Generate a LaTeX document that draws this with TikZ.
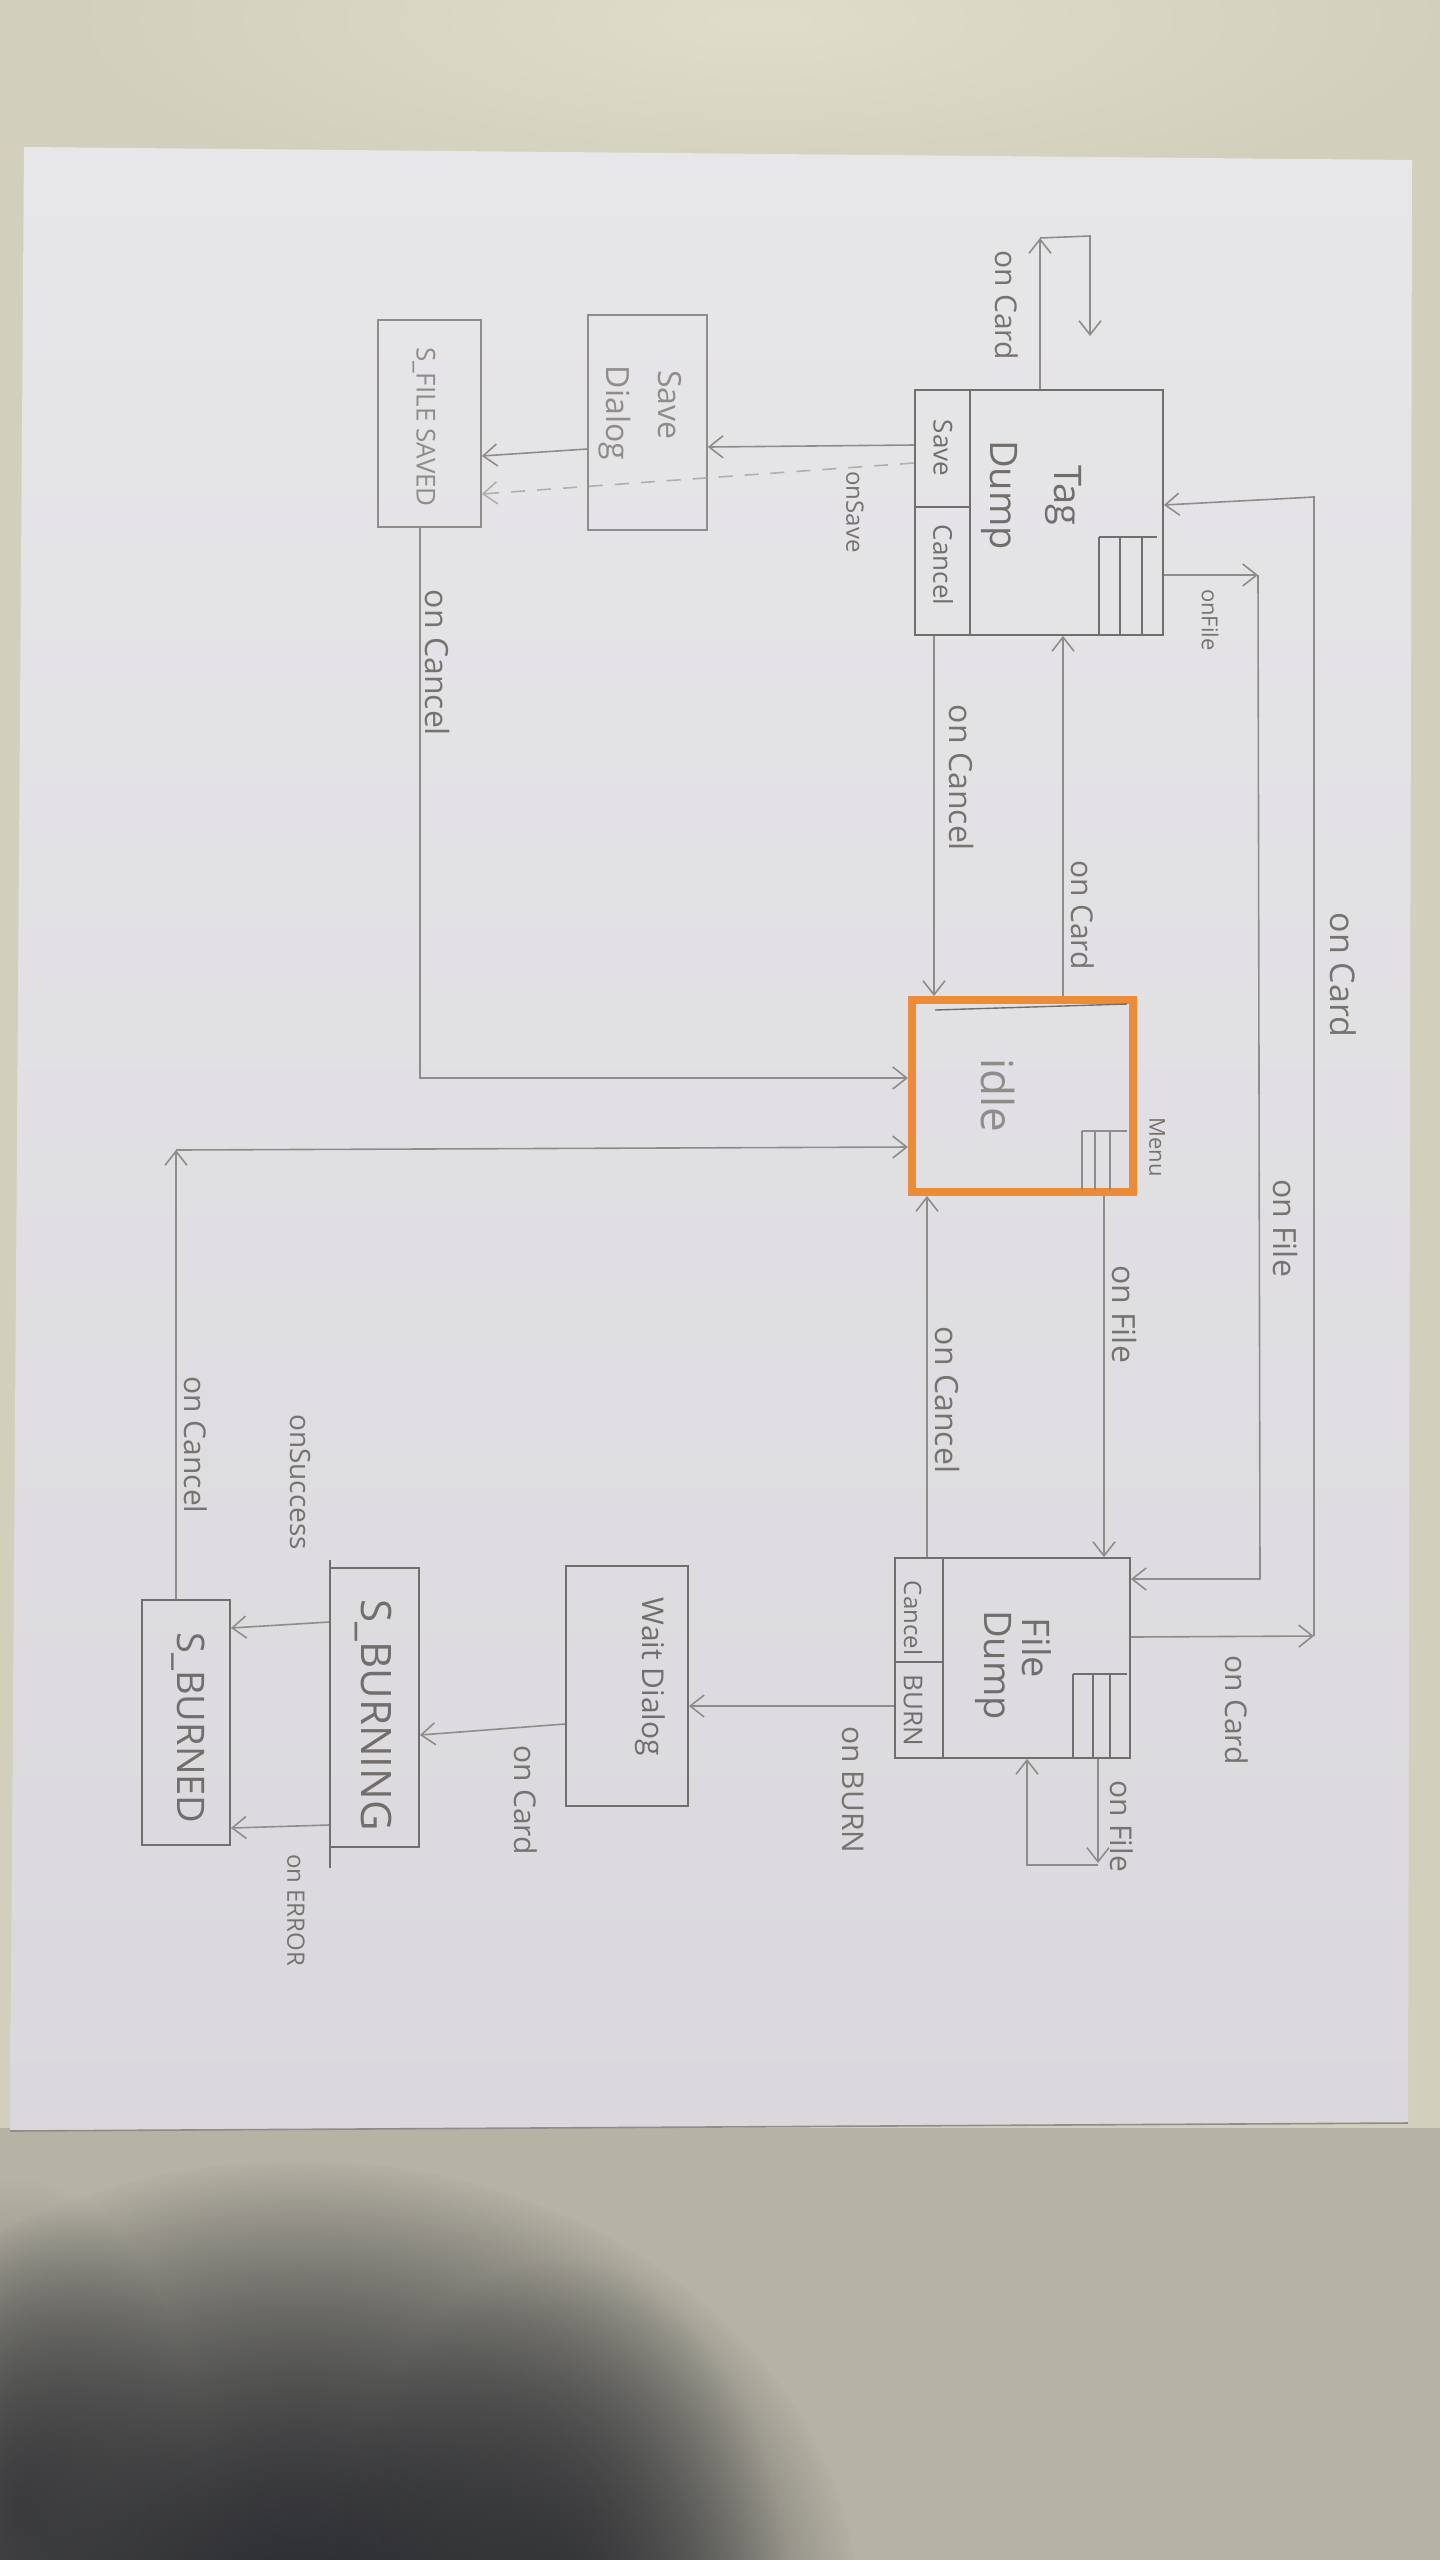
\documentclass[tikz,border=0pt]{standalone}
\usepackage{fontspec}
\setmainfont{Open Sans}
\usetikzlibrary{arrows.meta,fadings}
\definecolor{desk}{HTML}{D2D0BD}
\definecolor{deskhi}{HTML}{E0DECB}
\definecolor{tablec}{HTML}{B6B3A5}
\definecolor{shadowc}{HTML}{2E2F33}
\definecolor{papertop}{HTML}{E7E6E9}
\definecolor{paperbot}{HTML}{DAD8DC}
\definecolor{pencil}{HTML}{716E6C}
\definecolor{pencilsoft}{HTML}{8F8C8A}
\definecolor{inktext}{HTML}{77746F}
\definecolor{marker}{HTML}{EC8B38}
\tikzfading[name=softblob, inner color=transparent!0, outer color=transparent!100]
\begin{document}
\begin{tikzpicture}[x=0.5pt,y=-0.5pt,
  box/.style={draw=pencil, line width=0.9pt, inner sep=0pt},
  softbox/.style={draw=pencilsoft, line width=0.8pt, inner sep=0pt},
  stateidle/.style={draw=marker, line width=4pt, inner sep=0pt},
  wire/.style={draw=pencilsoft, line width=0.8pt},
  arr/.style={wire, -{Straight Barb[length=7pt,width=11pt]}},
  lbl/.style={text=inktext, rotate=-90, inner sep=0pt, font=\fontsize{#1}{#1}\selectfont},
  title/.style={text=pencil, rotate=-90, inner sep=0pt, font=\fontsize{#1}{#1}\selectfont},
]
\useasboundingbox (0,0) rectangle (1440,2560);

% ---------- desk, sheet of paper, table with shadow ----------
\fill[desk] (0,0) rectangle (1440,2560);
\fill[deskhi, path fading=softblob] (760,20) ellipse (720 and 200);
\fill[tablec] (0,2128) rectangle (1440,2560);
\begin{scope}
  \clip (0,2128) rectangle (1440,2560);
  \fill[shadowc, path fading=softblob] (300,2620) ellipse (560 and 460);
  \fill[shadowc, path fading=softblob] (300,2620) ellipse (560 and 460);
  \fill[shadowc, path fading=softblob, opacity=0.9] (560,2620) ellipse (230 and 360);
  \fill[shadowc, path fading=softblob, opacity=0.7] (20,2500) ellipse (180 and 320);
\end{scope}
\shade[top color=papertop, bottom color=paperbot]
  (24,147) -- (1412,160) -- (1408,2123) -- (10,2131) -- cycle;
\draw[color=pencilsoft, line width=0.8pt] (10,2131) -- (1408,2123);

% ---------- states ----------
\node[box, minimum width=124pt, minimum height=122.5pt] (tag) at (1039,512.5) {};
\node[softbox, minimum width=59.5pt, minimum height=107.5pt] (savedlg) at (647.5,422.5) {};
\node[softbox, minimum width=51.5pt, minimum height=103.5pt] (filesaved) at (429.5,423.5) {};
\node[stateidle, minimum width=110.5pt, minimum height=96pt] (idle) at (1022.5,1096) {};
\node[box, minimum width=117.5pt, minimum height=100pt] (filedump) at (1012.5,1658) {};
\node[box, minimum width=61pt, minimum height=120pt] (waitdlg) at (627,1686) {};
\node[box, minimum width=44.5pt, minimum height=139.5pt] (burning) at (374.5,1707.5) {};
\node[box, minimum width=44pt, minimum height=122.5pt] (burned) at (186,1722.5) {};

% Tag Dump: button strip and menu icon
\draw[box] (970,390) -- (970,635);
\draw[box] (915,507) -- (970,507);
\draw[box] (1099,537) -- (1157,537);
\foreach \x in {1099,1120,1142} \draw[box] (\x,537) -- (\x,635);
\node[title=13] at (943,448) {Save};
\node[title=13] at (943,565) {Cancel};
\node[title=19] at (1063,495) {Tag};
\node[title=19] at (999,495) {Dump};

% Save Dialog and S_FILE SAVED
\node[title=16, text=pencilsoft] at (670,405) {Save};
\node[title=16, text=pencilsoft] at (615,413) {Dialog};
\node[title=13, text=pencilsoft] at (424,427) {S\_FILE SAVED};

% idle: pencil line under the marker and menu icon
\draw[color=pencil, line width=0.7pt] (935,1010) -- (1127,1004);
\draw[softbox] (1082,1131) -- (1127,1131);
\foreach \x in {1082,1095,1110} \draw[softbox] (\x,1131) -- (\x,1190);
\node[title=22, text=pencilsoft] at (998,1095) {idle};
\node[lbl=11] at (1157,1147) {Menu};

% File Dump: button strip and menu icon
\draw[box] (943,1558) -- (943,1758);
\draw[box] (895,1662) -- (943,1662);
\draw[box] (1073,1674) -- (1127,1674);
\foreach \x in {1073,1093,1110} \draw[box] (\x,1674) -- (\x,1758);
\node[title=12] at (913,1618) {Cancel};
\node[title=13] at (913,1710) {BURN};
\node[title=19] at (1037,1648) {File};
\node[title=19] at (993,1665) {Dump};

% burning branch
\node[title=15] at (650,1677) {Wait Dialog};
\draw[box] (330,1560) -- (330,1868);
\node[title=21] at (373,1715) {S\_BURNING};
\node[title=19] at (188,1728) {S\_BURNED};

% ---------- transitions ----------
% Tag Dump
\coordinate (tagloopA) at (1040,238);
\coordinate (tagloopB) at (1090,336);
\draw[arr] (tag.north -| 1040,0) -- (tagloopA);
\draw[arr] (tagloopA) -- (1090,236) -- (tagloopB);
\node[lbl=15] at (1007,305) {on Card};

\draw[arr] (tag.west |- 0,445) -- (savedlg.east |- 0,447);
\draw[arr, dashed, dash pattern=on 7pt off 6pt, draw=pencilsoft!70] (tag.west |- 0,463) -- (filesaved.east |- 0,494);
\node[lbl=12] at (855,512) {onSave};
\draw[arr] (savedlg.west |- 0,449) -- (filesaved.east |- 0,456);

\draw[arr] (filesaved.south -| 420,0) -- (420,1078) -- (idle.west |- 0,1078);
\node[lbl=16] at (437,663) {on Cancel};

\draw[arr] (tag.south -| 934,0) -- (idle.north -| 934,0);
\node[lbl=16] at (961,778) {on Cancel};
\draw[arr] (idle.north -| 1063,0) -- (tag.south -| 1063,0);
\node[lbl=15] at (1083,915) {on Card};

% Tag Dump -> File Dump
\coordinate (fileturn) at (1258,575);
\draw[arr] (tag.east |- 0,575) -- (fileturn);
\draw[arr] (fileturn) -- (1260,1579) -- (filedump.east |- 0,1579);
\node[lbl=11] at (1210,620) {onFile};
\node[lbl=16] at (1285,1228) {on File};

% File Dump -> Tag Dump
\coordinate (cardturn) at (1314,1636);
\draw[arr] (filedump.east |- 0,1637) -- (cardturn);
\draw[arr] (cardturn) -- (1314,497) -- (tag.east |- 0,505);
\node[lbl=17] at (1343,975) {on Card};
\node[lbl=15] at (1237,1710) {on Card};

% idle <-> File Dump
\draw[arr] (idle.south -| 1104,0) -- (filedump.north -| 1104,0);
\node[lbl=16] at (1124,1314) {on File};
\draw[arr] (filedump.north -| 927,0) -- (idle.south -| 927,0);
\node[lbl=16] at (947,1400) {on Cancel};

% File Dump self loop
\coordinate (fileloop) at (1098,1863);
\draw[arr] (filedump.south -| 1098,0) -- (fileloop);
\draw[arr] (1098,1865) -- (1027,1865) -- (filedump.south -| 1027,0);
\node[lbl=15] at (1122,1826) {on File};

% burning branch
\draw[arr] (filedump.west |- 0,1706) -- (waitdlg.east |- 0,1706);
\node[lbl=15] at (853,1790) {on BURN};
\draw[arr] (waitdlg.west |- 0,1724) -- (burning.east |- 0,1735);
\node[lbl=15] at (526,1800) {on Card};
\draw[arr] (burning.west |- 0,1622) -- (burned.east |- 0,1628);
\node[lbl=14] at (300,1482) {onSuccess};
\draw[arr] (burning.west |- 0,1825) -- (burned.east |- 0,1828);
\node[lbl=12] at (296,1910) {on ERROR};

% S_BURNED -> idle
\coordinate (burnturn) at (176,1150);
\draw[arr] (burned.north -| 176,0) -- (burnturn);
\draw[arr] (burnturn) -- (idle.west |- 0,1147);
\node[lbl=15] at (196,1445) {on Cancel};
\end{tikzpicture}
\end{document}
